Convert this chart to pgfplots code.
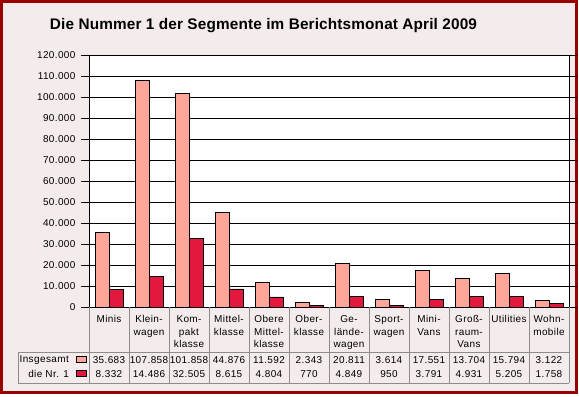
\documentclass[border=0pt]{standalone}
\usepackage{pgfplots}
\pgfplotsset{compat=1.18}
\usepackage{pgfplotstable}
\usepackage{fontspec}
\setmainfont{Liberation Sans}[LetterSpace=4]
\newfontfamily\titlefont{Liberation Sans}[LetterSpace=1]
\definecolor{bg}{HTML}{F4ECEC}
\definecolor{frame}{HTML}{990000}
\definecolor{lightbar}{HTML}{FFA699}
\definecolor{darkbar}{HTML}{E2183D}
\definecolor{sep}{HTML}{8C8C8C}
\pgfkeys{/pgf/number format/.cd,fixed,precision=0,1000 sep={.}}
\pgfplotstableread{
x total nr
0 35683 8332
1 107858 14486
2 101858 32505
3 44876 8615
4 11592 4804
5 2343 770
6 20811 4849
7 3614 950
8 17551 3791
9 13704 4931
10 15794 5205
11 3122 1758
}\data
\begin{document}
\begin{tikzpicture}[x=1bp,y=1bp]
\useasboundingbox (0,0) rectangle (579,396);
\fill[white] (0,0) rectangle (579,396);
\draw[frame, fill=bg, line width=3bp] (1.5,3.5) rectangle (576,394.5);
\node[font=\titlefont\bfseries\fontsize{15.4}{18}\selectfont] at (263.5,370) {Die Nummer 1 der Segmente im Berichtsmonat April 2009};
\begin{axis}[at={(89bp,89bp)}, anchor=south west, scale only axis,
  width=480bp, height=252bp,
  xmin=-0.5, xmax=11.5, ymin=0, ymax=120000,
  ytick distance=10000, xtick=\empty,
  ymajorgrids, grid style={black, line width=0.8bp},
  axis line style={black, line width=0.8bp},
  axis background/.style={fill=white},
  ybar=0pt, bar width=14bp,
  tick align=outside, major tick length=8bp,
  y tick style={black, line width=0.8bp},
  scaled y ticks=false,
  yticklabel style={font=\fontsize{10}{12}\selectfont, xshift=-2bp},
  clip=false,
  /pgf/number format/fixed,
  /pgf/number format/precision=0,
  /pgf/number format/1000 sep={.},
  /pgf/number format/assume math mode=true]
\addplot[fill=lightbar, draw=black, line width=0.8bp] table[x=x,y=total]{\data};
\addplot[fill=darkbar, draw=black, line width=0.8bp] table[x=x,y=nr]{\data};
\end{axis}
% data table below the chart
\begin{scope}[sep, line width=1bp]
\foreach \i in {0,...,12} { \draw (89+40*\i,89) -- (89+40*\i,13); }
\draw (18,44) -- (569,44);
\draw (18,13) -- (569,13);
\draw (18,44) -- (18,13);
\end{scope}
\foreach \i/\lab in {0/Minis, 1/{Klein-\\wagen}, 2/{Kom-\\pakt\\klasse}, 3/{Mittel-\\klasse}, 4/{Obere\\Mittel-\\klasse}, 5/{Ober-\\klasse}, 6/{Ge-\\lände-\\wagen}, 7/{Sport-\\wagen}, 8/{Mini-\\Vans}, 9/{Groß-\\raum-\\Vans}, 10/Utilities, 11/{Wohn-\\mobile}}{
  \node[anchor=north, align=center, inner sep=0pt, font=\fontsize{10}{12.5}\selectfont] at (109+40*\i,80.5) {\lab};
}
\foreach \i in {0,...,11}{
  \pgfplotstablegetelem{\i}{total}\of\data
  \node[font=\fontsize{10}{12}\selectfont] at (109+40*\i,36) {\pgfmathprintnumber[assume math mode=true]{\pgfplotsretval}};
  \pgfplotstablegetelem{\i}{nr}\of\data
  \node[font=\fontsize{10}{12}\selectfont] at (109+40*\i,22) {\pgfmathprintnumber[assume math mode=true]{\pgfplotsretval}};
}
\node[anchor=east, inner sep=0pt, font=\fontsize{10}{12}\selectfont] at (69,36) {Insgesamt};
\node[anchor=east, inner sep=0pt, font=\fontsize{10}{12}\selectfont] at (69,22) {die Nr. 1};
\filldraw[fill=lightbar, draw=black, line width=0.8bp] (76.5,39.5) rectangle (86.5,33.5);
\filldraw[fill=darkbar, draw=black, line width=0.8bp] (76.5,25.5) rectangle (86.5,19.5);
\end{tikzpicture}
\end{document}
